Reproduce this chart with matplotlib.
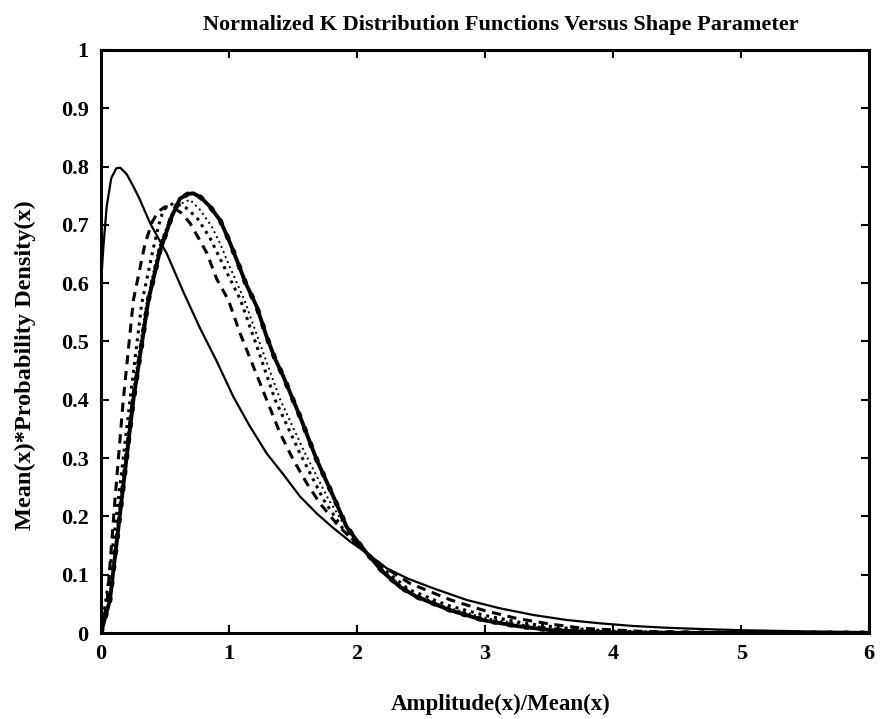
import matplotlib
matplotlib.use("Agg")
import matplotlib.pyplot as plt

# ---- data ----
# thin solid curve
xa = [0.0, 0.018, 0.044, 0.08, 0.12, 0.15, 0.20, 0.25, 0.30, 0.383, 0.513, 0.643, 0.773, 0.904,
      1.034, 1.164, 1.294, 1.424, 1.555, 1.685, 1.815, 1.945, 2.076, 2.232, 2.40, 2.596, 2.857,
      3.117, 3.377, 3.638, 3.898, 4.159, 4.42, 4.68, 5.0, 5.5, 6.0]
ya = [0.60, 0.66, 0.731, 0.78, 0.797, 0.798, 0.787, 0.767, 0.745, 0.703, 0.651, 0.585, 0.523, 0.466,
      0.405, 0.354, 0.308, 0.272, 0.234, 0.205, 0.180, 0.157, 0.137, 0.111, 0.093, 0.0766, 0.0566,
      0.0423, 0.0309, 0.0223, 0.0166, 0.012, 0.009, 0.0069, 0.0048, 0.0028, 0.0016]

# dashed curve
xb = [0.0, 0.049, 0.109, 0.174, 0.253, 0.344, 0.40, 0.448, 0.50, 0.56, 0.63, 0.695, 0.76, 0.826,
      0.904, 0.995, 1.086, 1.19, 1.294, 1.398, 1.502, 1.607, 1.711, 1.85, 2.0, 2.076, 2.2, 2.414,
      2.727, 2.987, 3.247, 3.508, 3.768, 4.2, 4.6, 5.0, 6.0]
yb = [0.0, 0.057, 0.228, 0.40, 0.571, 0.668, 0.705, 0.723, 0.731, 0.730, 0.72, 0.703, 0.678, 0.652,
      0.607, 0.571, 0.514, 0.457, 0.40, 0.343, 0.297, 0.257, 0.222, 0.185, 0.152, 0.137, 0.115, 0.085,
      0.057, 0.039, 0.025, 0.0154, 0.008, 0.003, 0.0012, 0.0005, 0.0]

# coarse dotted curve
xc = [0.0, 0.06, 0.135, 0.227, 0.318, 0.409, 0.448, 0.487, 0.565, 0.65, 0.75, 0.85, 0.95, 1.09,
      1.22, 1.36, 1.55, 1.74, 1.90, 2.076, 2.2, 2.4, 2.7, 3.0, 3.3, 3.6, 4.0, 4.5, 6.0]
yc = [0.0, 0.09, 0.228, 0.40, 0.565, 0.66, 0.697, 0.726, 0.737, 0.732, 0.712, 0.678, 0.633, 0.571,
      0.49, 0.40, 0.31, 0.228, 0.175, 0.137, 0.112, 0.075, 0.048, 0.030, 0.017, 0.009, 0.003, 0.0008, 0.0]

# fine dotted curve
xd = [0.0, 0.065, 0.15, 0.24, 0.35, 0.45, 0.55, 0.62, 0.695, 0.773, 0.865, 0.93, 0.982, 1.12,
      1.26, 1.40, 1.59, 1.78, 1.93, 2.076, 2.2, 2.4, 2.7, 3.0, 3.3, 3.6, 4.0, 4.5, 6.0]
yd = [0.0, 0.057, 0.228, 0.40, 0.56, 0.66, 0.718, 0.736, 0.743, 0.726, 0.697, 0.668, 0.64, 0.571,
      0.485, 0.40, 0.31, 0.228, 0.175, 0.137, 0.108, 0.070, 0.044, 0.026, 0.014, 0.007, 0.002, 0.0005, 0.0]

# heavy curve
xe = [0.0, 0.07, 0.161, 0.253, 0.370, 0.46, 0.552, 0.617, 0.68, 0.721, 0.78, 0.852, 0.93, 0.995,
      1.06, 1.13, 1.216, 1.294, 1.36, 1.424, 1.50, 1.555, 1.685, 1.815, 1.919, 2.0, 2.076, 2.2,
      2.336, 2.466, 2.727, 2.987, 3.247, 3.508, 3.8, 4.2, 5.0, 6.0]
ye = [0.0, 0.057, 0.228, 0.40, 0.571, 0.655, 0.714, 0.745, 0.753, 0.754, 0.747, 0.731, 0.708, 0.676,
      0.640, 0.60, 0.56, 0.508, 0.47, 0.44, 0.40, 0.371, 0.297, 0.234, 0.182, 0.158, 0.137, 0.105,
      0.079, 0.062, 0.039, 0.022, 0.012, 0.005, 0.002, 0.0005, 0.0, 0.0]

x_ticks = [0, 1, 2, 3, 4, 5, 6]
y_ticks = [0, 0.1, 0.2, 0.3, 0.4, 0.5, 0.6, 0.7, 0.8, 0.9, 1]
y_tick_labels = ["0", "0.1", "0.2", "0.3", "0.4", "0.5", "0.6", "0.7", "0.8", "0.9", "1"]

title = "Normalized K Distribution Functions Versus Shape Parameter"
xlabel = "Amplitude(x)/Mean(x)"
ylabel = "Mean(x)*Probability Density(x)"

# ---- drawing ----
plt.rcParams['font.family'] = ['Liberation Serif', 'DejaVu Serif']
fig = plt.figure(figsize=(8.86, 7.19), dpi=100)
ax = fig.add_axes([0.114, 0.1196, 0.867, 0.811])

ax.plot(xa, ya, color='black', lw=1.6, ls='-')
ax.plot(xb, yb, color='black', lw=2.2, ls=(0, (3, 2.2)))
ax.plot(xc, yc, color='black', lw=2.2, ls=(0, (1, 1.6)))
ax.plot(xd, yd, color='black', lw=1.4, ls=(0, (1, 1.8)))
ax.plot(xe, ye, color='black', lw=2.8, ls='-')
ax.plot(xe, ye, color='black', lw=3.6, ls=(0, (1, 2.2)))

ax.set_xlim(0, 6)
ax.set_ylim(0, 1)
ax.set_xticks(x_ticks)
ax.set_xticklabels([str(t) for t in x_ticks])
ax.set_yticks(y_ticks)
ax.set_yticklabels(y_tick_labels)
ax.tick_params(direction='in', length=6, width=1.5, top=True, right=True,
               labelsize=16)
ax.tick_params(axis='x', pad=8)
ax.tick_params(axis='y', pad=9)
for lab in ax.get_xticklabels() + ax.get_yticklabels():
    lab.set_fontweight('bold')
for sp in ax.spines.values():
    sp.set_linewidth(2.2)

ax.set_title(title, fontsize=16, fontweight='bold', pad=14, x=0.52)
ax.set_xlabel(xlabel, fontsize=16.5, fontweight='bold')
ax.xaxis.set_label_coords(0.52, -0.105)
ax.set_ylabel(ylabel, fontsize=17.5, fontweight='bold')
ax.yaxis.set_label_coords(-0.085, 0.46)

fig.savefig("out.png", dpi=100)
